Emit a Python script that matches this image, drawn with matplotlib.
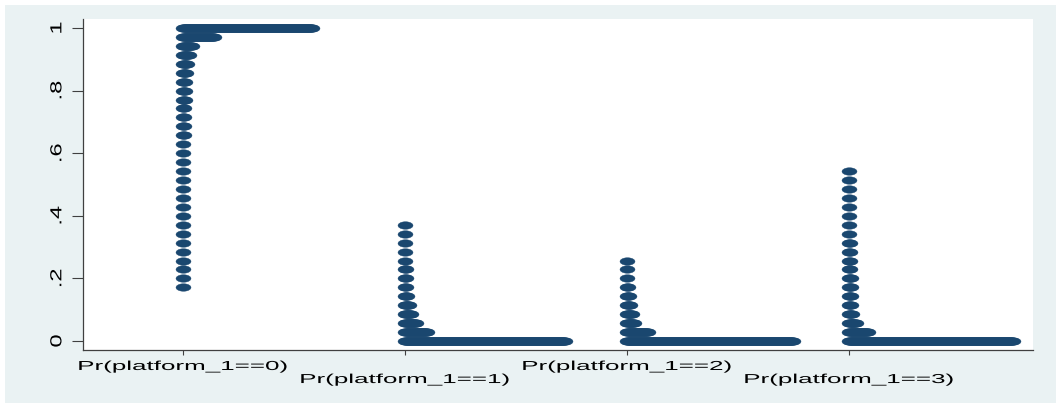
import numpy as np
import matplotlib
matplotlib.use("Agg")
import matplotlib.pyplot as plt
from matplotlib.path import Path
from matplotlib.patches import Rectangle
from matplotlib.patheffects import AbstractPathEffect
from matplotlib.transforms import Affine2D

# Data: dotplot of predicted probabilities, counts per bin (bin k sits at k/35)
#---------------------------
n_bins = 35
group_labels = ["Pr(platform_1==0)", "Pr(platform_1==1)",
                "Pr(platform_1==2)", "Pr(platform_1==3)"]

# counts listed from bin 0 upward
counts_p0 = [0, 0, 0, 0, 0, 0,
             1, 1, 1, 1, 1, 1, 1, 1, 1, 1, 1, 1, 1, 1, 1,
             1, 1, 2, 2, 2, 2, 3, 3, 3, 4, 5, 7, 10, 32, 130]
counts_p1 = [161, 23, 12, 7, 5, 3, 2, 2, 2, 1, 1, 1, 1, 1]
counts_p2 = [167, 22, 8, 6, 4, 3, 2, 1, 1, 1]
counts_p3 = [165, 20, 8, 4, 3, 3, 3, 3, 2, 2, 2, 2, 1, 1, 1, 1, 1, 1, 1, 1]

ytick_values = [0, 0.2, 0.4, 0.6, 0.8, 1]
ytick_labels = ["0", ".2", ".4", ".6", ".8", "1"]

# Style
#---------------------------
dot_color = "#1a476f"
bg_color = "#eaf2f3"
axis_color = "#404040"
dx = 1 / 222   # horizontal step between stacked dots (x units)


class Stretch(AbstractPathEffect):
    # scale glyphs horizontally around their centre (the source graph is distorted)
    def __init__(self, sx):
        super().__init__()
        self.sx = sx

    def draw_path(self, renderer, gc, tpath, affine, rgbFace=None):
        ext = tpath.get_extents(affine)
        cx = (ext.x0 + ext.x1) / 2
        a = affine + Affine2D().translate(-cx, 0).scale(self.sx, 1).translate(cx, 0)
        renderer.draw_path(gc, tpath, a, rgbFace)


plt.rcParams["font.family"] = ["Liberation Sans", "DejaVu Sans"]

fig = plt.figure(figsize=(10.56, 4.04), dpi=100)
fig.patch.set_facecolor("white")
fig.patches.append(Rectangle((5 / 1056, 1 / 404), 1, 398 / 404, transform=fig.transFigure,
                             facecolor=bg_color, edgecolor="none", zorder=-10))

ax = fig.add_axes([83 / 1056, 54 / 404, 950 / 1056, 331 / 404])
ax.set_facecolor("white")

# ellipse marker, twice as wide as tall
t = np.linspace(0, 2 * np.pi, 48)
ellipse = Path(np.column_stack([np.cos(t), 0.5 * np.sin(t)]), closed=True)

for g, counts in enumerate([counts_p0, counts_p1, counts_p2, counts_p3]):
    xs, ys = [], []
    for k, n in enumerate(counts):
        for j in range(n):
            xs.append(g + j * dx)
            ys.append(k / n_bins)
    ax.plot(xs, ys, ls="none", marker=ellipse, ms=10.8,
            mfc=dot_color, mec=dot_color, mew=0.3)

ax.set_xlim(-0.45, 3.829)
ax.set_ylim(-0.0288, 1.0288)

for s in ["top", "right"]:
    ax.spines[s].set_visible(False)
for s in ["left", "bottom"]:
    ax.spines[s].set_color(axis_color)
    ax.spines[s].set_linewidth(0.9)

ax.set_yticks(ytick_values)
ax.set_yticklabels(ytick_labels, rotation=90, va="center", fontsize=17)
ax.tick_params(axis="y", length=7.9, width=0.8, color=axis_color, pad=2.2)
for lab in ax.get_yticklabels():
    lab.set_path_effects([Stretch(0.68)])

ax.set_xticks(range(len(group_labels)))
ax.set_xticklabels(group_labels, fontsize=9.36)
ax.tick_params(axis="x", length=3.6, width=0.8, color=axis_color, pad=4.3)
for i, tick in enumerate(ax.xaxis.get_major_ticks()):
    tick.label1.set_path_effects([Stretch(2.0)])
    if i % 2 == 1:
        tick.set_pad(13.7)   # alternate rows, like the original

fig.savefig("out.png", dpi=100, facecolor=fig.get_facecolor())
